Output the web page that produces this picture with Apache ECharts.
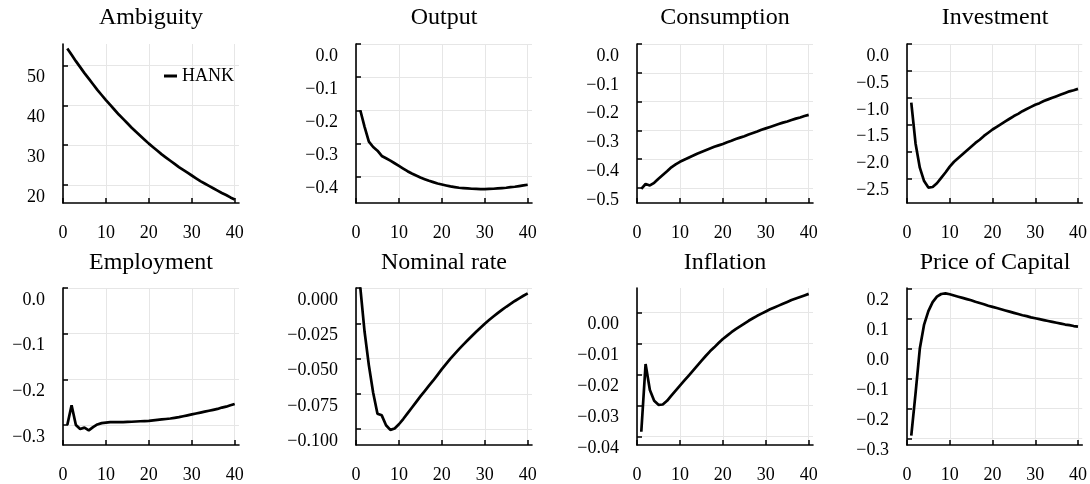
<!DOCTYPE html>
<html>
<head>
<meta charset="utf-8">
<script src="https://cdn.jsdelivr.net/npm/echarts@6/dist/echarts.min.js"></script>
<style>
  html, body { margin: 0; padding: 0; background: #fff; }
  #chart { width: 1090px; height: 484px; }
</style>
</head>
<body>
<div id="chart"></div>
<script>
const horizon = [1, 2, 3, 4, 5, 6, 7, 8, 9, 10, 11, 12, 13, 14, 15, 16, 17, 18, 19, 20,
  21, 22, 23, 24, 25, 26, 27, 28, 29, 30, 31, 32, 33, 34, 35, 36, 37, 38, 39, 40]

const ambiguity = [54.3, 52.7, 51.1, 49.6, 48.1, 46.7, 45.3, 43.9, 42.6, 41.3,
  40.1, 38.9, 37.7, 36.6, 35.5, 34.4, 33.4, 32.4, 31.4, 30.4,
  29.5, 28.6, 27.7, 26.9, 26.1, 25.3, 24.5, 23.8, 23.1, 22.4,
  21.7, 21.0, 20.4, 19.8, 19.2, 18.6, 18.0, 17.5, 16.9, 16.4]
const output = [-0.200, -0.250, -0.295, -0.311, -0.322, -0.338, -0.345, -0.352, -0.360, -0.368,
  -0.376, -0.384, -0.391, -0.397, -0.403, -0.408, -0.413, -0.417, -0.421, -0.424,
  -0.427, -0.430, -0.432, -0.434, -0.435, -0.436, -0.437, -0.4375, -0.438, -0.438,
  -0.4375, -0.437, -0.436, -0.435, -0.434, -0.432, -0.431, -0.429, -0.427, -0.425]
const consumption = [-0.503, -0.486, -0.491, -0.482, -0.468, -0.455, -0.442, -0.428, -0.418, -0.409,
  -0.402, -0.395, -0.388, -0.381, -0.375, -0.369, -0.363, -0.357, -0.352, -0.347,
  -0.341, -0.336, -0.330, -0.325, -0.320, -0.314, -0.309, -0.304, -0.298, -0.293,
  -0.288, -0.283, -0.278, -0.273, -0.269, -0.264, -0.259, -0.255, -0.250, -0.246]
const investment = [-1.09, -1.85, -2.30, -2.55, -2.67, -2.66, -2.59, -2.49, -2.39, -2.28,
  -2.19, -2.12, -2.05, -1.98, -1.91, -1.84, -1.78, -1.71, -1.65, -1.59,
  -1.54, -1.49, -1.44, -1.39, -1.34, -1.30, -1.25, -1.21, -1.17, -1.13,
  -1.10, -1.06, -1.03, -1.00, -0.97, -0.94, -0.91, -0.88, -0.86, -0.835]
const employment = [-0.300, -0.257, -0.300, -0.309, -0.306, -0.312, -0.305, -0.299, -0.296, -0.295,
  -0.294, -0.294, -0.294, -0.294, -0.2935, -0.293, -0.2925, -0.292, -0.2915, -0.291,
  -0.290, -0.289, -0.288, -0.287, -0.286, -0.2845, -0.283, -0.281, -0.279, -0.277,
  -0.275, -0.273, -0.271, -0.269, -0.267, -0.265, -0.262, -0.260, -0.257, -0.254]
const nominalRate = [0.0005, -0.031, -0.0548, -0.0742, -0.089, -0.0902, -0.0972, -0.1005, -0.0995, -0.0965,
  -0.0928, -0.0888, -0.0848, -0.0808, -0.0768, -0.0730, -0.0692, -0.0655, -0.0615, -0.0575,
  -0.0537, -0.0500, -0.0466, -0.0433, -0.0401, -0.0370, -0.0340, -0.0310, -0.0281, -0.0253,
  -0.0227, -0.0202, -0.0178, -0.0155, -0.0133, -0.0112, -0.0092, -0.0073, -0.0055, -0.0038]
const inflation = [-0.0385, -0.0166, -0.0250, -0.0285, -0.0298, -0.0297, -0.0285, -0.0268, -0.0252, -0.0236,
  -0.0220, -0.0204, -0.0188, -0.0172, -0.0156, -0.0140, -0.0125, -0.0112, -0.0098, -0.0085,
  -0.0074, -0.0063, -0.0053, -0.0044, -0.0035, -0.0026, -0.0018, -0.0010, -0.0003, 0.0004,
  0.0011, 0.0017, 0.0023, 0.0029, 0.0035, 0.0041, 0.0046, 0.0051, 0.0056, 0.0061]
const priceOfCapital = [-0.291, -0.150, 0.000, 0.080, 0.125, 0.155, 0.173, 0.182, 0.184, 0.181,
  0.177, 0.173, 0.169, 0.165, 0.161, 0.156, 0.152, 0.148, 0.143, 0.139,
  0.135, 0.131, 0.127, 0.123, 0.119, 0.115, 0.111, 0.108, 0.104, 0.101,
  0.098, 0.095, 0.092, 0.089, 0.086, 0.083, 0.080, 0.078, 0.075, 0.073]

const titles = ['Ambiguity', 'Output', 'Consumption', 'Investment', 'Employment', 'Nominal rate', 'Inflation', 'Price of Capital']
const xTicks = [0, 10, 20, 30, 40]
const ambTicks = [20, 30, 40, 50]
const outTicks = [0, -0.1, -0.2, -0.3, -0.4]
const conTicks = [0, -0.1, -0.2, -0.3, -0.4, -0.5]
const invTicks = [0, -0.5, -1, -1.5, -2, -2.5]
const empTicks = [0, -0.1, -0.2, -0.3]
const rateTicks = [0, -0.025, -0.05, -0.075, -0.1]
const inflTicks = [0, -0.01, -0.02, -0.03, -0.04]
const pkTicks = [0.2, 0.1, 0, -0.1, -0.2, -0.3]

const font = 'Liberation Serif'
const panels = [
  { y: ambiguity, ticks: ambTicks, min: 15.5, max: 55.4, dec: 0 },
  { y: output, ticks: outTicks, min: -0.48, max: 0, dec: 1 },
  { y: consumption, ticks: conTicks, min: -0.552, max: 0, dec: 1 },
  { y: investment, ticks: invTicks, min: -2.957, max: 0, dec: 1 },
  { y: employment, ticks: empTicks, min: -0.344, max: 0, dec: 1 },
  { y: nominalRate, ticks: rateTicks, min: -0.1112, max: 0, dec: 3 },
  { y: inflation, ticks: inflTicks, min: -0.0428, max: 0.008, dec: 2 },
  { y: priceOfCapital, ticks: pkTicks, min: -0.322, max: 0.202, dec: 1 }
]
const lefts = [63, 356, 637, 907]
const tops = [44, 288]
const w = 176
const h = 159

const fmt = (v, d) => {
  const s = Math.abs(v).toFixed(d)
  return (v < -1e-9 ? '\u2212' : '') + s
}

const chart = echarts.init(document.getElementById('chart'))
const grid = [], xAxis = [], yAxis = [], series = [], graphic = []
panels.forEach((p, i) => {
  const left = lefts[i % 4]
  const top = tops[Math.floor(i / 4)]
  grid.push({ left: left, top: top, width: w, height: h })
  xAxis.push({
    type: 'value', gridIndex: i, min: 0, max: 41,
    axisLine: { onZero: false, lineStyle: { color: '#000', width: 1.6 } },
    axisTick: { inside: true, length: 5, lineStyle: { color: '#000', width: 1.5 }, customValues: xTicks },
    axisLabel: { customValues: xTicks, margin: 21, color: '#000', fontFamily: font, fontSize: 18 },
    splitLine: { show: true, lineStyle: { color: '#e6e6e6', width: 1 } }
  })
  yAxis.push({
    type: 'value', gridIndex: i, min: p.min, max: p.max,
    axisLine: { show: true, onZero: false, lineStyle: { color: '#000', width: 1.6 } },
    axisTick: { show: true, inside: true, length: 5, lineStyle: { color: '#000', width: 1.5 }, customValues: p.ticks },
    axisLabel: {
      customValues: p.ticks, margin: 18, color: '#000', fontFamily: font, fontSize: 18,
      verticalAlign: 'top', padding: [3, 0, 0, 0], formatter: v => fmt(v, p.dec)
    },
    splitLine: { show: true, lineStyle: { color: '#e6e6e6', width: 1 } }
  })
  series.push({
    name: i === 0 ? 'HANK' : 'HANK' + i,
    type: 'line', xAxisIndex: i, yAxisIndex: i,
    data: horizon.map((x, k) => [x, p.y[k]]),
    showSymbol: false, clip: true,
    lineStyle: { color: '#000', width: 2.7 },
    itemStyle: { color: '#000' }
  })
  // panel title, centred over its plot area
  graphic.push({
    type: 'text', x: left + w / 2, y: top === 44 ? 6 : 251,
    style: { text: titles[i], font: '24px "Liberation Serif"', fill: '#000', textAlign: 'center', textVerticalAlign: 'top' }
  })
})

chart.setOption({
  animation: false,
  grid: grid,
  xAxis: xAxis,
  yAxis: yAxis,
  series: series,
  legend: {
    data: ['HANK'], left: 159, top: 62, icon: 'rect', itemWidth: 13, itemHeight: 3,
    textStyle: { color: '#000', fontFamily: font, fontSize: 18 }
  },
  graphic: graphic
})
</script>
</body>
</html>
